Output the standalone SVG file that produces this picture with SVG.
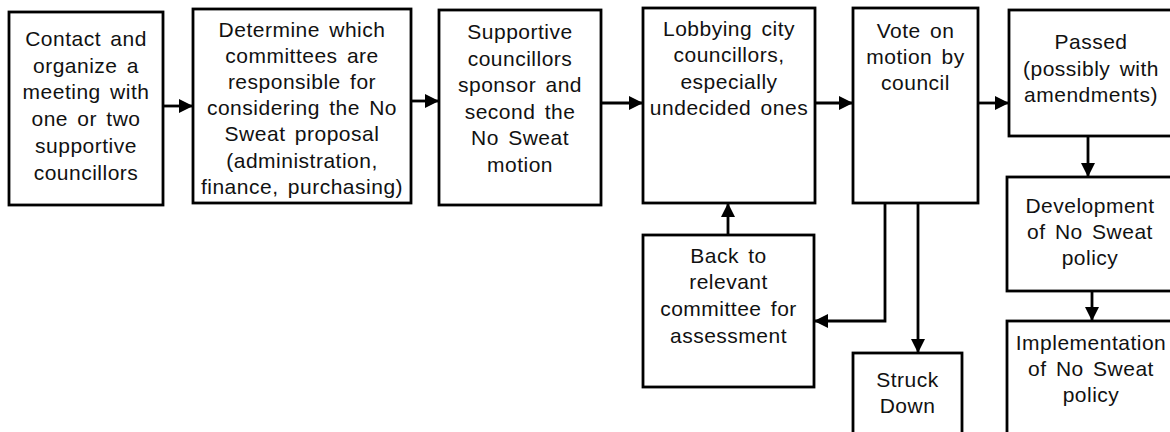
<svg xmlns="http://www.w3.org/2000/svg" width="1170" height="432" viewBox="0 0 1170 432">
<defs>
<style>
.box{fill:#fff;stroke:#000;stroke-width:2.8}
.t{font-family:"Liberation Sans",Arial,sans-serif;font-size:21px;letter-spacing:0.5px;word-spacing:3px;fill:#111;text-anchor:middle}
.c{fill:none;stroke:#000;stroke-width:2.8}
</style>
<marker id="ah" markerUnits="userSpaceOnUse" markerWidth="14" markerHeight="14" viewBox="0 0 14 14" refX="14" refY="7" orient="auto">
<path d="M0,0 L14,7 L0,14 Z" fill="#000"/>
</marker>
</defs>
<rect width="1170" height="432" fill="#fff"/>
<g id="connectors">
<line class="c" x1="163" y1="106" x2="193" y2="106" marker-end="url(#ah)"/>
<line class="c" x1="411" y1="101" x2="439" y2="101" marker-end="url(#ah)"/>
<line class="c" x1="601" y1="103" x2="643" y2="103" marker-end="url(#ah)"/>
<line class="c" x1="815" y1="103" x2="853" y2="103" marker-end="url(#ah)"/>
<line class="c" x1="978" y1="103" x2="1009" y2="103" marker-end="url(#ah)"/>
<line class="c" x1="1088" y1="136" x2="1088" y2="177" marker-end="url(#ah)"/>
<line class="c" x1="1092" y1="291" x2="1092" y2="321" marker-end="url(#ah)"/>
<line class="c" x1="728" y1="235" x2="728" y2="203" marker-end="url(#ah)"/>
<polyline class="c" points="885,203 885,321 814,321" marker-end="url(#ah)"/>
<line class="c" x1="918" y1="203" x2="918" y2="353" marker-end="url(#ah)"/>
</g>
<g id="n1"><rect class="box" x="9" y="12" width="154" height="193"/>
<text class="t"><tspan x="86" y="46">Contact and</tspan><tspan x="86" y="73">organize a</tspan><tspan x="86" y="99">meeting with</tspan><tspan x="86" y="126">one or two</tspan><tspan x="86" y="153">supportive</tspan><tspan x="86" y="180">councillors</tspan></text></g>
<g id="n2"><rect class="box" x="193" y="9" width="218" height="194"/>
<text class="t"><tspan x="302" y="37">Determine which</tspan><tspan x="302" y="63">committees are</tspan><tspan x="302" y="89">responsible for</tspan><tspan x="302" y="115">considering the No</tspan><tspan x="302" y="141">Sweat proposal</tspan><tspan x="302" y="168">(administration,</tspan><tspan x="302" y="194">finance, purchasing)</tspan></text></g>
<g id="n3"><rect class="box" x="439" y="10" width="162" height="195"/>
<text class="t"><tspan x="520" y="39">Supportive</tspan><tspan x="520" y="66">councillors</tspan><tspan x="520" y="92">sponsor and</tspan><tspan x="520" y="119">second the</tspan><tspan x="520" y="145">No Sweat</tspan><tspan x="520" y="172">motion</tspan></text></g>
<g id="n4"><rect class="box" x="643" y="8" width="172" height="195"/>
<text class="t"><tspan x="729" y="36">Lobbying city</tspan><tspan x="729" y="62">councillors,</tspan><tspan x="729" y="89">especially</tspan><tspan x="729" y="115">undecided ones</tspan></text></g>
<g id="n5"><rect class="box" x="853" y="8" width="125" height="195"/>
<text class="t"><tspan x="915.5" y="38">Vote on</tspan><tspan x="915.5" y="64">motion by</tspan><tspan x="915.5" y="90">council</tspan></text></g>
<g id="n6"><rect class="box" x="1009" y="10" width="164" height="126"/>
<text class="t"><tspan x="1091" y="49">Passed</tspan><tspan x="1091" y="75.5">(possibly with</tspan><tspan x="1091" y="102">amendments)</tspan></text></g>
<g id="n7"><rect class="box" x="1007" y="177" width="166" height="114"/>
<text class="t"><tspan x="1090" y="213">Development</tspan><tspan x="1090" y="239">of No Sweat</tspan><tspan x="1090" y="265">policy</tspan></text></g>
<g id="n8"><rect class="box" x="1007" y="321" width="166" height="120"/>
<text class="t"><tspan x="1091" y="350">Implementation</tspan><tspan x="1091" y="376">of No Sweat</tspan><tspan x="1091" y="402">policy</tspan></text></g>
<g id="n9"><rect class="box" x="643" y="235" width="171" height="152"/>
<text class="t"><tspan x="728.5" y="263">Back to</tspan><tspan x="728.5" y="289">relevant</tspan><tspan x="728.5" y="316">committee for</tspan><tspan x="728.5" y="343">assessment</tspan></text></g>
<g id="n10"><rect class="box" x="853" y="353" width="109" height="90"/>
<text class="t"><tspan x="907.5" y="387">Struck</tspan><tspan x="907.5" y="413">Down</tspan></text></g>
</svg>
